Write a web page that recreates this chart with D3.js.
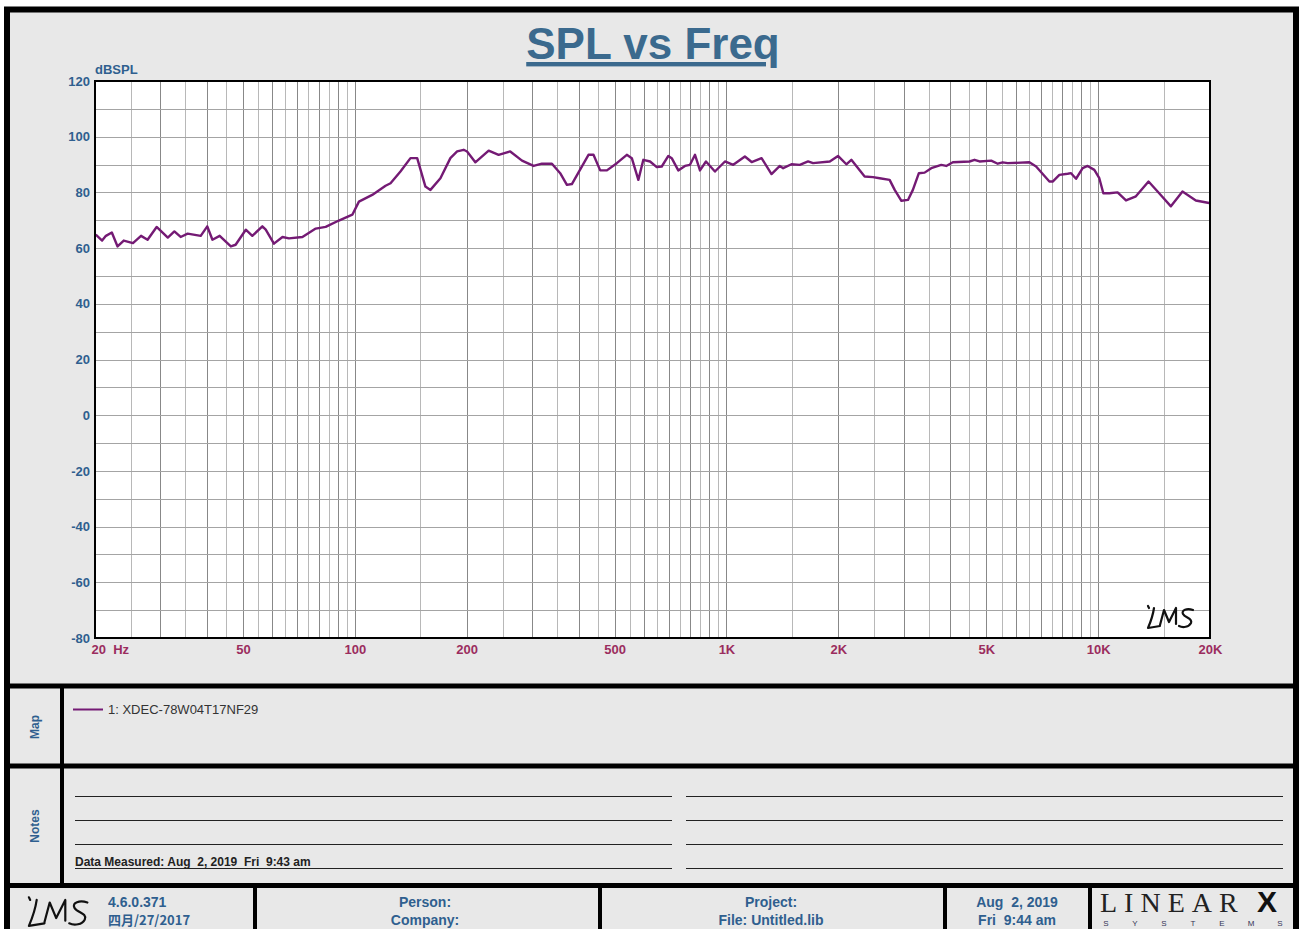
<!DOCTYPE html>
<html>
<head>
<meta charset="utf-8">
<script src="https://cdn.jsdelivr.net/npm/d3@7"></script>
<style>
  body { margin: 0; background: #fff; }
  svg { display: block; font-family: Arial, "Liberation Sans", sans-serif; }
  text { white-space: pre; }
</style>
</head>
<body>
<script>
const freqHz = [20.1, 20.9, 21.4, 22.2, 23.0, 23.9, 25.3, 26.6, 27.7, 29.3, 31.4, 32.7, 34.0, 35.5, 38.5, 40.1,
  41.4, 43.3, 46.4, 47.8, 50.9, 53.0, 56.4, 57.6, 60.6, 63.9, 66.5, 72.3, 78.5, 83.5, 90.6, 98.5, 102.6, 111.4,
  121, 124.8, 132.7, 141.2, 147.2, 154.9, 159.8, 170, 180.8, 188.5, 196.3, 200.5, 211, 229.2, 243.8, 262, 281.8,
  302.7, 318.8, 339.2, 357, 372.2, 383.8, 425.4, 438.8, 457.4, 476.8, 507, 539.4, 556.4, 579.4, 597.6, 623,
  649.4, 669.8, 697.6, 712.4, 742, 773.4, 797.8, 823, 848.8, 880.8, 931.2, 990.8, 1043, 1121, 1169, 1243, 1322,
  1392, 1421, 1496, 1575, 1658, 1710, 1897, 1996, 2102, 2168, 2354, 2479, 2584, 2748, 2836, 2956, 3079, 3174,
  3294, 3413, 3557, 3784, 3903, 4066, 4508, 4650, 4796, 5156, 5370, 5538, 5713, 6534, 6810, 7394, 7546, 7866,
  8281, 8456, 8722, 9087, 9371, 9768, 10074, 10328, 10717, 11282, 11884, 12638, 13666, 14598, 15698, 16866,
  18318, 19890];
const splDb = [64.8, 62.7, 64.4, 65.6, 60.6, 62.7, 61.8, 64.4, 63.0, 67.6, 63.8, 66.0, 64.0, 65.2, 64.4, 67.8,
  63.0, 64.4, 60.6, 61.2, 66.6, 64.4, 67.8, 66.6, 61.6, 64.0, 63.5, 64.0, 67.0, 67.6, 69.9, 72.0, 76.7, 79.1,
  82.4, 83.3, 87.5, 92.3, 92.3, 82.1, 80.9, 85.1, 92.3, 94.7, 95.3, 94.7, 90.8, 95.0, 93.5, 94.7, 91.4,
  89.5, 90.3, 90.3, 86.9, 82.7, 83.0, 93.5, 93.5, 87.9, 87.9, 90.5, 93.5, 92.3, 84.5, 91.7, 91.1,
  89.1, 89.3, 93.1, 92.3, 87.9, 89.5, 89.9, 93.5, 87.9, 91.1, 87.5, 91.1, 89.9, 92.9, 90.9, 92.3, 86.6,
  89.5, 88.7, 90.1, 89.9, 91.1, 90.5, 91.1, 93.1, 90.1, 91.7, 85.7, 85.5, 85.1, 84.5, 80.9, 77.0, 77.3, 80.9,
  86.9, 87.1, 88.7, 89.9, 89.5, 90.8, 91.1, 91.7, 91.1, 91.4, 90.3, 90.8, 90.5, 90.8, 89.3, 83.9, 83.9, 86.3,
  86.7, 86.9, 84.9, 88.7, 89.5, 88.1, 85.1, 79.7, 79.7, 80.0, 77.1, 78.6, 83.9, 79.7, 75.0, 80.3,
  77.1, 76.2];

const yTicks = [-80, -60, -40, -20, 0, 20, 40, 60, 80, 100, 120];
const xTicks = [20, 50, 100, 200, 500, 1000, 2000, 5000, 10000, 20000];
const xTickLabels = ['20  Hz', '50', '100', '200', '500', '1K', '2K', '5K', '10K', '20K'];
const seriesName = '1: XDEC-78W04T17NF29';

const W = 1299, H = 929;
const blue = '#2f5f8f', maroon = '#9b2d5e', purple = '#741a74';
const plot = { left: 95, right: 1210, top: 81, bottom: 638 };

const svg = d3.select('body').append('svg')
  .attr('width', W).attr('height', H);

// page background + outer frame
svg.append('rect').attr('x', 7).attr('y', 9.5).attr('width', 1289).attr('height', 1000)
  .attr('fill', '#e8e8e8').attr('stroke', '#000').attr('stroke-width', 6);

// title
svg.append('text').attr('x', 653).attr('y', 59)
  .attr('text-anchor', 'middle').attr('font-size', 44).attr('font-weight', 'bold')
  .attr('fill', '#3b6a8e').attr('text-decoration', 'underline')
  .text('SPL vs Freq');

const x = d3.scaleLog().domain([20, 20000]).range([plot.left, plot.right]);
const y = d3.scaleLinear().domain([-80, 120]).range([plot.bottom, plot.top]);

svg.append('rect').attr('x', plot.left).attr('y', plot.top)
  .attr('width', plot.right - plot.left).attr('height', plot.bottom - plot.top)
  .attr('fill', '#fff');

// grid: half-step log lines, darker on whole multiples
const gridFreqs = [];
[10, 100, 1000, 10000].forEach(dec => {
  for (let k = 2; k <= 20; k++) {
    const f = dec * k / 2;
    if (f >= 20 && f <= 20000) gridFreqs.push({ f, whole: k % 2 === 0 });
  }
});
const grid = svg.append('g');
grid.selectAll('.vg').data(gridFreqs).enter().append('line')
  .attr('x1', d => Math.round(x(d.f)) + 0.5).attr('x2', d => Math.round(x(d.f)) + 0.5)
  .attr('y1', plot.top).attr('y2', plot.bottom)
  .attr('stroke', d => d.whole ? '#888' : '#b8b8b8').attr('stroke-width', 1);
grid.selectAll('.hg').data(d3.range(-70, 120, 10)).enter().append('line')
  .attr('x1', plot.left).attr('x2', plot.right)
  .attr('y1', d => Math.round(y(d)) + 0.5).attr('y2', d => Math.round(y(d)) + 0.5)
  .attr('stroke', '#a4a4a4').attr('stroke-width', 1);

// curve
const line = d3.line().x((d, i) => x(freqHz[i])).y(d => y(d));
svg.append('path').datum(splDb)
  .attr('d', line).attr('fill', 'none')
  .attr('stroke', purple).attr('stroke-width', 2.4).attr('stroke-linejoin', 'round');

svg.append('rect').attr('x', plot.left).attr('y', plot.top)
  .attr('width', plot.right - plot.left).attr('height', plot.bottom - plot.top)
  .attr('fill', 'none').attr('stroke', '#000').attr('stroke-width', 2);

// axes
const yAxis = svg.append('g').attr('transform', `translate(${plot.left},0)`)
  .call(d3.axisLeft(y).tickValues(yTicks).tickSize(0).tickPadding(5).tickFormat(d => String(d)));
yAxis.select('.domain').remove();
yAxis.selectAll('text').attr('font-size', 13).attr('font-weight', 'bold')
  .attr('font-family', 'Arial, "Liberation Sans", sans-serif').attr('fill', blue);

const xAxis = svg.append('g').attr('transform', `translate(0,${plot.bottom})`)
  .call(d3.axisBottom(x).tickValues(xTicks).tickSize(0).tickPadding(7)
    .tickFormat((d, i) => xTickLabels[i]));
xAxis.select('.domain').remove();
xAxis.selectAll('text').attr('font-size', 13).attr('font-weight', 'bold')
  .attr('font-family', 'Arial, "Liberation Sans", sans-serif').attr('fill', maroon)
  .attr('text-anchor', (d, i) => i === 0 ? 'start' : 'middle')
  .attr('dx', (d, i) => i === 0 ? -4 : 0);

svg.append('text').attr('x', 95).attr('y', 74)
  .attr('font-size', 13).attr('font-weight', 'bold').attr('fill', blue).text('dBSPL');

// hand-written LMS mark
function drawLMS(g, tx, ty, s) {
  const p = g.append('g').attr('transform', `translate(${tx},${ty}) scale(${s})`)
    .attr('fill', 'none').attr('stroke', '#111').attr('stroke-width', 2.2 / s)
    .attr('stroke-linecap', 'round').attr('stroke-linejoin', 'round');
  p.append('path').attr('d', 'M3,1 L4,3');
  p.append('path').attr('d', 'M9,3 C8,10 6,16 3,23 L15,21');
  p.append('path').attr('d', 'M15,20 L19,5 L24,17 L31,3 L31,19');
  p.append('path').attr('d', 'M48,5 C42,3 36,5 38,9 C40,13 48,13 46,18 C44,22 38,23 34,21');
}
drawLMS(svg, 1145, 605, 1.0);

// separators
const sep = svg.append('g').attr('stroke', '#000');
[686, 766, 885.5].forEach(yy => sep.append('line')
  .attr('x1', 4).attr('x2', 1299).attr('y1', yy).attr('y2', yy).attr('stroke-width', 5));
sep.append('line').attr('x1', 62).attr('x2', 62).attr('y1', 686).attr('y2', 885)
  .attr('stroke-width', 4);
[255, 600, 945, 1090].forEach(xx => sep.append('line')
  .attr('x1', xx).attr('x2', xx).attr('y1', 885).attr('y2', 929).attr('stroke-width', 4));

// side labels
[['Map', 727], ['Notes', 826]].forEach(([t, cy]) => {
  svg.append('text').attr('transform', `translate(39,${cy}) rotate(-90)`)
    .attr('text-anchor', 'middle').attr('font-size', 12).attr('font-weight', 'bold')
    .attr('fill', blue).text(t);
});

// legend
svg.append('line').attr('x1', 73).attr('x2', 103).attr('y1', 709.5).attr('y2', 709.5)
  .attr('stroke', purple).attr('stroke-width', 2);
svg.append('text').attr('x', 108).attr('y', 714).attr('font-size', 13)
  .attr('fill', '#333').text(seriesName);

// notes lines
const notes = svg.append('g').attr('stroke', '#222').attr('stroke-width', 1);
[796, 820, 844, 868].forEach(yy => {
  notes.append('line').attr('x1', 75).attr('x2', 672).attr('y1', yy + 0.5).attr('y2', yy + 0.5);
  notes.append('line').attr('x1', 686).attr('x2', 1283).attr('y1', yy + 0.5).attr('y2', yy + 0.5);
});
svg.append('text').attr('x', 75).attr('y', 866).attr('font-size', 12).attr('font-weight', 'bold')
  .attr('fill', '#222')
  .text('Data Measured: Aug  2, 2019  Fri  9:43 am');

// footer
drawLMS(svg, 25, 896, 1.3);
const foot = svg.append('g').attr('font-weight', 'bold').attr('fill', blue)
  .attr('font-size', 14);
foot.append('text').attr('x', 108).attr('y', 907).text('4.6.0.371');
foot.append('text').attr('x', 108).attr('y', 925).attr('font-family', '"Noto Sans CJK SC", Arial, sans-serif')
  .attr('font-size', 13).text('四月/27/2017');
foot.append('text').attr('x', 425).attr('y', 907).attr('text-anchor', 'middle').text('Person:');
foot.append('text').attr('x', 425).attr('y', 925).attr('text-anchor', 'middle').text('Company:');
foot.append('text').attr('x', 771).attr('y', 907).attr('text-anchor', 'middle').text('Project:');
foot.append('text').attr('x', 771).attr('y', 925).attr('text-anchor', 'middle').text('File: Untitled.lib');
foot.append('text').attr('x', 1017).attr('y', 907).attr('text-anchor', 'middle').text('Aug  2, 2019');
foot.append('text').attr('x', 1017).attr('y', 925).attr('text-anchor', 'middle').text('Fri  9:44 am');

// LinearX logo
const logo = svg.append('g');
logo.append('text').attr('x', 1100).attr('y', 912).attr('font-family', '"Liberation Serif", "DejaVu Serif", serif')
  .attr('font-size', 28).attr('fill', '#222').attr('letter-spacing', 7).text('LINEAR');
logo.append('text').attr('x', 1257).attr('y', 912).attr('font-family', 'Arial, sans-serif')
  .attr('font-weight', 900).attr('font-size', 30).attr('fill', '#111').text('X');
const sysLetters = 'SYSTEMS'.split('');
logo.selectAll('.sys').data(sysLetters).enter().append('text')
  .attr('x', (d, i) => 1106 + i * 29).attr('y', 926)
  .attr('text-anchor', 'middle').attr('font-size', 8).attr('fill', '#335').text(d => d);
</script>
</body>
</html>
